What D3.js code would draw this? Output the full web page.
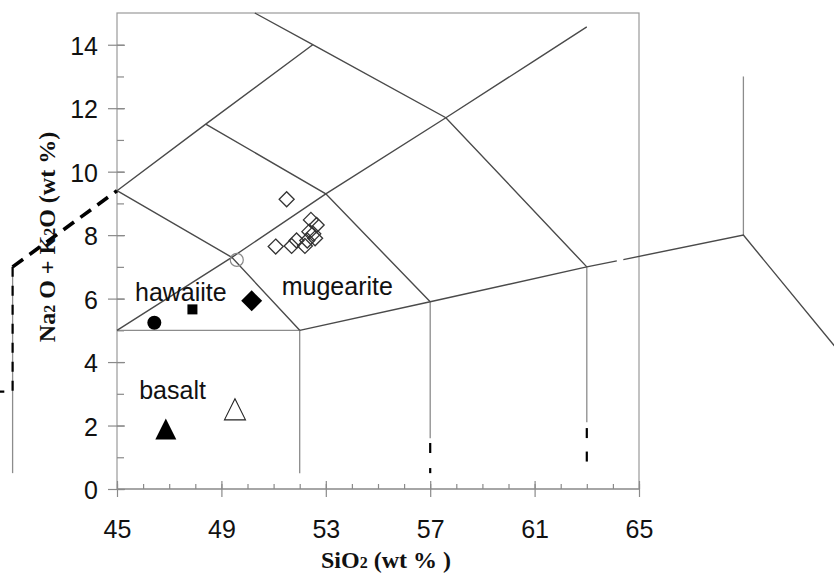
<!DOCTYPE html>
<html><head><meta charset="utf-8">
<script src="https://cdn.jsdelivr.net/npm/d3@7"></script>
<style>
body{margin:0;background:#fff;}
svg{display:block;}
</style></head>
<body>
<svg id="c" width="834" height="578"></svg>
<script>
// ---- data (data units: SiO2 wt%, Na2O+K2O wt%) ----
const xTickMajor = [45, 49, 53, 57, 61, 65];
const xTickMinor = d3.range(45, 66, 1);
const yTickMajor = [0, 2, 4, 6, 8, 10, 12, 14];
const yTickMinor = d3.range(0, 15, 1);

// TAS field boundaries (dark)
const boundaryDark = [
  [[45,9.4],[48.4,11.5],[52.5,14]],
  [[50.28,15],[52.5,14],[57.6,11.7],[63,7]],
  [[45,9.4],[49.4,7.3],[52,5]],
  [[45,5],[49.4,7.3],[53,9.3],[57.6,11.7],[61,13.5],[63,14.56]],
  [[48.4,11.5],[53,9.3],[57,5.9]],
  [[52,5],[57,5.9],[63,7],[64.15,7.19]],
  [[64.4,7.23],[69,8],[77,0]]
];
// lighter boundaries
const boundaryLight = [
  [[45,5],[52,5],[52,0.5]],
  [[57,5.9],[57,1.6]],
  [[63,7],[63,2.1]],
  [[69,8],[69,13]],
  [[41,7],[41,0.5]]
];
// black dashed overlays
const dashThick = [[[41,7],[45,9.4]]];
const dashThin = [
  [[41,7],[41,3.07],[40.5,3.07]],
  [[57,1.45],[57,0.91]],
  [[57,0.66],[57,0.5]],
  [[63,1.92],[63,1.45]],
  [[63,1.18],[63,0.79]]
];

// rock-type labels
const fieldLabels = ["hawaiite", "mugearite", "basalt"];
const fieldLabelX = [45.69, 51.31, 45.85];
const fieldLabelY = [5.92, 6.11, 2.84];

// samples
const openDiamondSi = [51.50, 51.08, 51.69, 51.88, 52.20, 52.43, 52.65, 52.37, 52.59, 52.29, 52.52];
const openDiamondAlk = [9.13, 7.64, 7.66, 7.83, 7.66, 8.48, 8.32, 8.11, 7.90, 7.83, 8.04];
const singleSamples = [
  {shape:"circleFilled",  si:46.43, alk:5.24},
  {shape:"squareFilled",  si:47.89, alk:5.66},
  {shape:"diamondFilled", si:50.16, alk:5.93},
  {shape:"circleOpen",    si:49.59, alk:7.22},
  {shape:"triFilled",     si:46.87, alk:1.89},
  {shape:"triOpen",       si:49.52, alk:2.51}
];

// ---- drawing ----
const svg = d3.select("#c");
const x = d3.scaleLinear().domain([45,65]).range([117,639]);
const y = d3.scaleLinear().domain([0,15]).range([489,13]);
const line = d3.line().x(d=>x(d[0])).y(d=>y(d[1]));
const sans = "'Liberation Sans', Arial, Helvetica, sans-serif";
const serif = "'Liberation Serif', 'Times New Roman', serif";

// box
svg.append("rect").attr("x", x(45)).attr("y", y(15))
  .attr("width", x(65)-x(45)).attr("height", y(0)-y(15))
  .attr("fill","none").attr("stroke","#9a9a9a").attr("stroke-width",1.2);

// axes
function styleAxis(g){ g.select(".domain").remove(); g.selectAll("line").attr("stroke","#8a8a8a").attr("stroke-width",1.2); }
svg.append("g").attr("transform",`translate(0,${y(0)})`)
  .call(d3.axisBottom(x).tickValues(xTickMinor).tickSize(-5).tickFormat(""))
  .call(styleAxis);
const xMaj = svg.append("g").attr("transform",`translate(0,${y(0)})`)
  .call(d3.axisBottom(x).tickValues(xTickMajor).tickSize(8).tickPadding(23).tickFormat(d3.format("d")))
  .call(styleAxis);
xMaj.selectAll("line").attr("y1",-8);
xMaj.selectAll("text").attr("font-family",sans).attr("font-size",25).attr("fill","#111");

svg.append("g").attr("transform",`translate(${x(45)},0)`)
  .call(d3.axisRight(y).tickValues(yTickMinor).tickSize(7).tickFormat(""))
  .call(styleAxis);
const yMaj = svg.append("g").attr("transform",`translate(${x(45)},0)`)
  .call(d3.axisLeft(y).tickValues(yTickMajor).tickSize(9).tickPadding(10).tickFormat(d3.format("d")))
  .call(styleAxis);
yMaj.selectAll("line").attr("x1",8);
yMaj.selectAll("text").attr("font-family",sans).attr("font-size",25).attr("fill","#111").attr("dy","0.38em");

// x-axis baseline
svg.append("line").attr("x1",x(45)).attr("x2",x(65)).attr("y1",y(0)).attr("y2",y(0))
  .attr("stroke","#8a8a8a").attr("stroke-width",1.2);

// boundaries
svg.append("g").selectAll("path").data(boundaryLight).join("path")
  .attr("d",line).attr("fill","none").attr("stroke","#8c8c8c").attr("stroke-width",1.3);
svg.append("g").selectAll("path").data(boundaryDark).join("path")
  .attr("d",line).attr("fill","none").attr("stroke","#4a4a4a").attr("stroke-width",1.4);
svg.append("g").selectAll("path").data(dashThick).join("path")
  .attr("d",line).attr("fill","none").attr("stroke","#000").attr("stroke-width",3.6)
  .attr("stroke-dasharray","13,8");
svg.append("g").selectAll("path").data(dashThin).join("path")
  .attr("d",line).attr("fill","none").attr("stroke","#000").attr("stroke-width",2.2)
  .attr("stroke-dasharray","10,9");

// field labels
svg.append("g").selectAll("text").data(fieldLabels).join("text")
  .attr("x",(d,i)=>x(fieldLabelX[i])).attr("y",(d,i)=>y(fieldLabelY[i]))
  .attr("font-family",sans).attr("font-size",25).attr("fill","#111").text(d=>d);

// open diamonds
const dHalf = 7.5;
const diamondPath = (cx,cy,h)=>`M${cx},${cy-h}L${cx+h},${cy}L${cx},${cy+h}L${cx-h},${cy}Z`;
svg.append("g").selectAll("path").data(openDiamondSi).join("path")
  .attr("d",(d,i)=>diamondPath(x(d), y(openDiamondAlk[i]), dHalf))
  .attr("fill","none").attr("stroke","#333").attr("stroke-width",1.3);

// single samples
const g = svg.append("g");
singleSamples.forEach(s=>{
  const cx = x(s.si), cy = y(s.alk);
  if(s.shape==="circleFilled") g.append("circle").attr("cx",cx).attr("cy",cy).attr("r",7).attr("fill","#000");
  if(s.shape==="circleOpen") g.append("circle").attr("cx",cx).attr("cy",cy).attr("r",6.5).attr("fill","none").attr("stroke","#888").attr("stroke-width",1.2);
  if(s.shape==="squareFilled") g.append("rect").attr("x",cx-5).attr("y",cy-5).attr("width",10).attr("height",10).attr("fill","#000");
  if(s.shape==="diamondFilled") g.append("path").attr("d",diamondPath(cx,cy,10.5)).attr("fill","#000");
  if(s.shape==="triFilled") g.append("path").attr("d",`M${cx},${cy-10.5}L${cx+10.5},${cy+10.5}L${cx-10.5},${cy+10.5}Z`).attr("fill","#000");
  if(s.shape==="triOpen") g.append("path").attr("d",`M${cx},${cy-10.5}L${cx+10.5},${cy+10.5}L${cx-10.5},${cy+10.5}Z`).attr("fill","none").attr("stroke","#222").attr("stroke-width",1.1);
});

// axis titles
const xt = svg.append("text").attr("x",386).attr("y",568).attr("text-anchor","middle")
  .attr("font-family",serif).attr("font-weight","bold").attr("font-size",24).attr("fill","#111");
xt.append("tspan").text("SiO");
xt.append("tspan").attr("font-size",16).text("2");
xt.append("tspan").text(" (wt % )");

const yt = svg.append("text").attr("transform","translate(55,237) rotate(-90)").attr("text-anchor","middle")
  .attr("font-family",serif).attr("font-weight","bold").attr("font-size",24).attr("fill","#111");
yt.append("tspan").text("Na");
yt.append("tspan").attr("font-size",16).text("2");
yt.append("tspan").text(" O + K");
yt.append("tspan").attr("font-size",16).text("2");
yt.append("tspan").text("O (wt %)");
</script>
</body></html>
